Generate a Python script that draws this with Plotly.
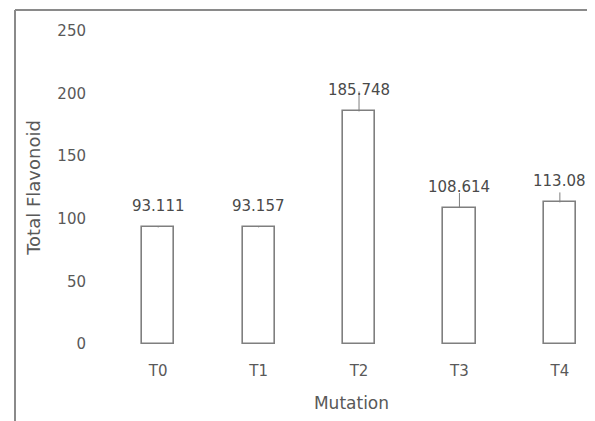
import plotly.graph_objects as go

categories = ["T0", "T1", "T2", "T3", "T4"]
values = [93.111, 93.157, 185.748, 108.614, 113.08]
errors = [1.0, 1.0, 16.0, 12.0, 8.0]
value_labels = ["93.111", "93.157", "185.748", "108.614", "113.08"]
y_ticks = [0, 50, 100, 150, 200, 250]

# the page body has an 8px margin, so the figure is drawn 8px smaller
W, H = 587, 413
ml, mr, mt, mb = 100, 0, 23, 77
pw, ph = W - ml - mr, H - mt - mb

FONT = "DejaVu Sans"
GREY = "#595959"
LINE = "#7f7f7f"

fig = go.Figure()
fig.add_trace(go.Bar(
    x=categories, y=values, width=0.32,
    marker=dict(color="white", line=dict(color=LINE, width=1.6)),
    error_y=dict(type="data", array=errors, symmetric=False, arrayminus=[0]*len(errors),
                 color=LINE, thickness=1, width=0),
    showlegend=False,
))

for c, v, lab in zip(categories, values, value_labels):
    fig.add_annotation(x=c, y=v, text=lab, showarrow=False, yanchor="bottom",
                       yshift=10, font=dict(family=FONT, size=15, color="#4a4a4a"))

px2x = lambda p: (p - ml) / pw
py2y = lambda p: (mt + ph - p) / ph
fig.add_shape(type="line", xref="paper", yref="paper",
              x0=px2x(7), x1=px2x(600), y0=py2y(2), y1=py2y(2),
              line=dict(color="#8a8a8a", width=2))
fig.add_shape(type="line", xref="paper", yref="paper",
              x0=px2x(7), x1=px2x(7), y0=py2y(2), y1=py2y(425),
              line=dict(color="#8a8a8a", width=2))

fig.update_layout(
    width=W, height=H,
    margin=dict(l=ml, r=mr, t=mt, b=mb),
    paper_bgcolor="white", plot_bgcolor="white",
    font=dict(family=FONT, size=15, color=GREY),
    bargap=0,
    xaxis=dict(type="category", range=[-0.5, 4.35], showgrid=False, showline=False,
               zeroline=False, ticks="", ticklabelstandoff=16,
               tickfont=dict(size=15, color=GREY),
               title=dict(text="Mutation", font=dict(size=17, color=GREY), standoff=18)),
    yaxis=dict(range=[0, 250], tickvals=y_ticks, showgrid=False, showline=False,
               zeroline=False, ticks="", ticklabelstandoff=21,
               tickfont=dict(size=15, color=GREY),
               title=dict(text="Total Flavonoid", font=dict(size=18, color=GREY), standoff=12)),
)

fig.write_html("out.html")
